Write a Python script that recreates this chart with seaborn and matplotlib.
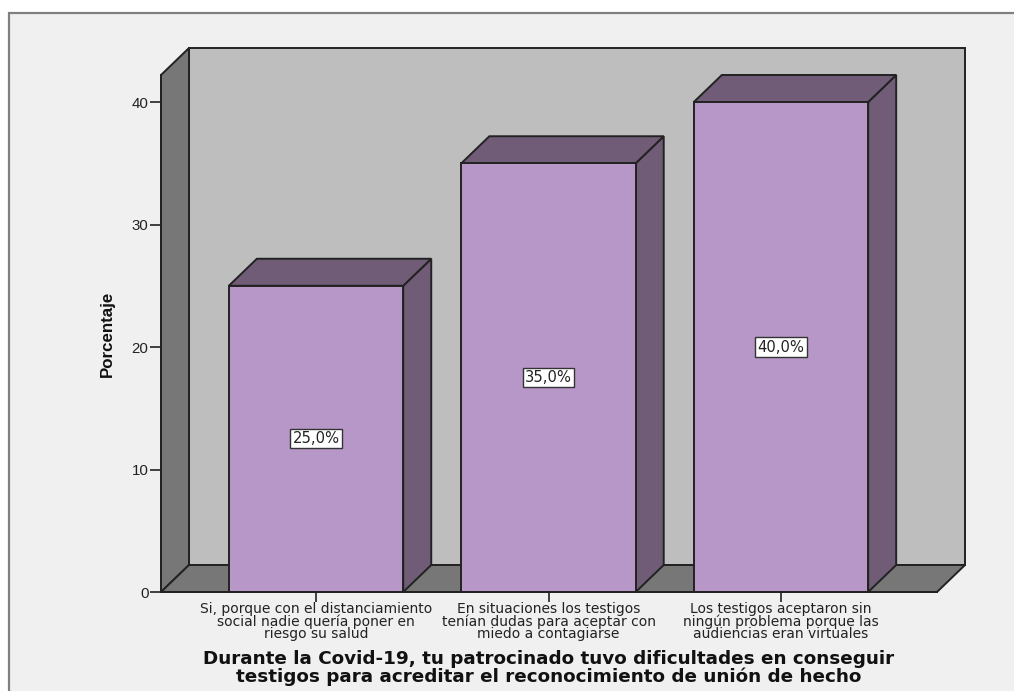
import matplotlib
matplotlib.use("Agg")
import matplotlib.pyplot as plt
from matplotlib.patches import Polygon, Rectangle
import pandas as pd
import seaborn as sns

categories = [
    "Si, porque con el distanciamiento\nsocial nadie quería poner en\nriesgo su salud",
    "En situaciones los testigos\ntenían dudas para aceptar con\nmiedo a contagiarse",
    "Los testigos aceptaron sin\nningún problema porque las\naudiencias eran virtuales",
]
values = [25.0, 35.0, 40.0]
labels = ["25,0%", "35,0%", "40,0%"]
yticks = [0, 10, 20, 30, 40]
ylabel = "Porcentaje"
xlabel = "Durante la Covid-19, tu patrocinado tuvo dificultades en conseguir\ntestigos para acreditar el reconocimiento de unión de hecho"

W, H = 1014, 691
sns.set_theme(style="white")
plt.rcParams["font.family"] = ["Liberation Sans", "DejaVu Sans"]

BG = "#f0f0f0"
WALL = "#bebebe"
SIDE = "#777777"
FACE = "#b797c8"
DARK = "#715c78"
EDGE = "#222222"

fig = plt.figure(figsize=(W / 100, H / 100), dpi=100, facecolor="white")
fig.add_artist(Rectangle((9 / W, -0.05), 1.05, 1.05 - 13 / H, transform=fig.transFigure,
                         facecolor=BG, edgecolor="#808080", linewidth=1.6, zorder=-1))
ax = fig.add_axes([161 / W, 1 - 592 / H, 776 / W, 517 / H])
ax.patch.set_alpha(0)

df = pd.DataFrame({"cat": categories, "val": values})
sns.barplot(data=df, x="cat", y="val", color=FACE, saturation=1, width=0.75,
            edgecolor=EDGE, linewidth=1.4, ax=ax, zorder=5)

xmin, xmax = -0.667, 2.671
ymax = 517 / 12.25
dx, dy = 28 / 232.5, 27 / 12.25
ax.set_xlim(xmin, xmax)
ax.set_ylim(0, ymax)

lw = 1.4
ax.add_patch(Polygon([(xmin + dx, dy), (xmax + dx, dy), (xmax + dx, ymax + dy), (xmin + dx, ymax + dy)],
                     fc=WALL, ec=EDGE, lw=lw, clip_on=False, zorder=1))
ax.add_patch(Polygon([(xmin, 0), (xmin + dx, dy), (xmin + dx, ymax + dy), (xmin, ymax)],
                     fc=SIDE, ec=EDGE, lw=lw, clip_on=False, zorder=2))
ax.add_patch(Polygon([(xmin, 0), (xmax, 0), (xmax + dx, dy), (xmin + dx, dy)],
                     fc=SIDE, ec=EDGE, lw=lw, clip_on=False, zorder=2))

for i, (v, lab) in enumerate(zip(values, labels)):
    l, r = i - 0.375, i + 0.375
    ax.add_patch(Polygon([(r, 0), (r + dx, dy), (r + dx, v + dy), (r, v)],
                         fc=DARK, ec=EDGE, lw=lw, clip_on=False, zorder=4))
    ax.add_patch(Polygon([(l, v), (r, v), (r + dx, v + dy), (l + dx, v + dy)],
                         fc=DARK, ec=EDGE, lw=lw, clip_on=False, zorder=4))
    ax.text(i, v / 2, lab, ha="center", va="center", fontsize=10.6, color="#222222", zorder=7,
            family="DejaVu Sans",
            bbox=dict(boxstyle="square,pad=0.14", fc="white", ec="#333333", lw=1))

for s in ["top", "right"]:
    ax.spines[s].set_visible(False)
for s in ["left", "bottom"]:
    ax.spines[s].set_color(EDGE)
    ax.spines[s].set_linewidth(lw)
    ax.spines[s].set_zorder(6)

ax.set_yticks(yticks)
ax.tick_params(axis="y", left=True, length=8, width=1.2, color=EDGE, labelsize=10.8, pad=1, labelcolor="#222222")
ax.tick_params(axis="x", bottom=True, length=7, width=1.2, color=EDGE, labelsize=10, pad=0.5, labelcolor="#222222")
for t in ax.get_xticklabels():
    t.set_family("DejaVu Sans")
    t.set_linespacing(0.84)

ax.set_xlabel("")
ax.set_ylabel("")
fig.text(107 / W, 1 - 334 / H, ylabel, rotation=90, ha="center", va="center",
         fontsize=12.2, fontweight="bold", color="#111111")
fig.text(549 / W, 1 - 668 / H, xlabel, ha="center", va="center", fontsize=13.25,
         fontweight="bold", family="DejaVu Sans", color="#111111", linespacing=0.92)

fig.savefig("out.png", dpi=100, facecolor="white")
